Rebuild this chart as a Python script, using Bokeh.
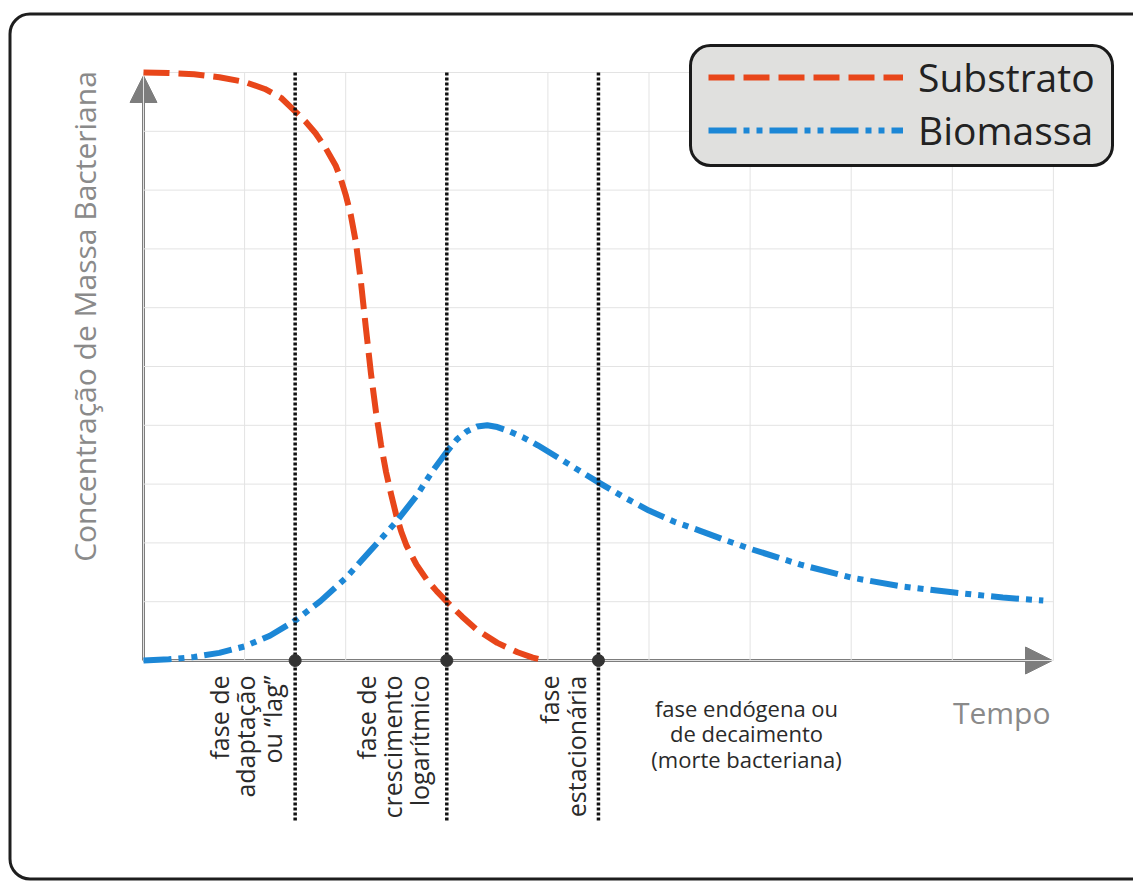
import math
from bokeh.plotting import figure
from bokeh.models import (Range1d, Arrow, NormalHead, Label, BoxAnnotation,
                          Legend, LegendItem, ColumnDataSource)
from bokeh.embed import file_html
from bokeh.resources import INLINE

# ---------------- data ----------------
time_ticks = [0, 1, 2, 3, 4, 5, 6, 7, 8, 9]
conc_ticks = [0, 1, 2, 3, 4, 5, 6, 7, 8, 9, 10]

substrato_t = [0.00, 0.25, 0.50, 0.75, 1.00, 1.20, 1.36, 1.50, 1.60, 1.70, 1.80,
               1.90, 1.95, 2.00, 2.05, 2.10, 2.15, 2.20, 2.25, 2.30, 2.35, 2.40,
               2.45, 2.50, 2.55, 2.60, 2.70, 2.80, 2.90, 3.00, 3.15, 3.30, 3.50,
               3.70, 3.85, 3.98]
substrato_c = [10.00, 9.99, 9.97, 9.92, 9.84, 9.72, 9.57, 9.34, 9.17, 8.97, 8.72,
               8.42, 8.20, 7.92, 7.58, 7.12, 6.45, 5.65, 4.88, 4.22, 3.66, 3.20,
               2.82, 2.47, 2.19, 1.96, 1.63, 1.38, 1.18, 1.00, 0.75, 0.52, 0.30,
               0.14, 0.05, 0.00]

biomassa_t = [0.00, 0.25, 0.50, 0.75, 1.00, 1.25, 1.50, 1.75, 2.00, 2.25, 2.50,
              2.70, 2.85, 3.00, 3.10, 3.20, 3.30, 3.40, 3.50, 3.60, 3.75, 3.90,
              4.10, 4.30, 4.50, 4.75, 5.00, 5.25, 5.50, 5.75, 6.00, 6.50, 7.00,
              7.50, 8.00, 8.50, 8.90]
biomassa_c = [0.00, 0.02, 0.06, 0.13, 0.24, 0.42, 0.68, 1.01, 1.40, 1.88, 2.36,
              2.80, 3.20, 3.55, 3.76, 3.90, 3.98, 4.00, 3.97, 3.91, 3.80, 3.66,
              3.45, 3.24, 3.03, 2.78, 2.55, 2.36, 2.21, 2.05, 1.90, 1.63, 1.41,
              1.26, 1.16, 1.07, 1.02]

phase_bounds = [1.5, 3.0, 4.5]
phase_labels = ["fase de\nadaptação\nou \u201clag\u201d",
                "fase de\ncrescimento\nlogarítmico",
                "fase\nestacionária",
                "fase endógena ou\nde decaimento\n(morte bacteriana)"]

series_names = ["Substrato", "Biomassa"]
x_label = "Tempo"
y_label = "Concentração de Massa Bacteriana"

# ---------------- layout helpers (page pixels -> data) ----------------
W, H = 1133, 883
OX, OY = 0, 0
X0, XU = 143.0, 101.1         # page x of t=0, pixels per unit
Y0, YU = 660.0, 58.8          # page y of c=0, pixels per unit


def sx(px):
    return (px - X0) / XU


def sy(py):
    return (Y0 - py) / YU


FONT = "Open Sans"
GRAY = "#8a8a8a"
AXIS = "#7d7d7d"
ORANGE = "#E8461A"
BLUE = "#1C87D6"

p = figure(width=W, height=H,
           x_range=Range1d(sx(OX), sx(OX + W)),
           y_range=Range1d(sy(OY + H), sy(OY)),
           x_axis_type=None, y_axis_type=None,
           output_backend="svg", toolbar_location=None,
           min_border=0, outline_line_color=None,
           background_fill_color="white", border_fill_color="white")

# outer rounded frame
p.add_layout(BoxAnnotation(left=sx(9.5), right=sx(1180), top=sy(13.5), bottom=sy(878.5),
                           border_radius=20, fill_color=None, fill_alpha=0,
                           line_color="#1e1e1e", line_alpha=1, line_width=3,
                           level="underlay"))

# grid lines from tick arrays
tmax = time_ticks[-1]
cmax = conc_ticks[-1]
p.segment(x0=time_ticks, y0=[0] * len(time_ticks), x1=time_ticks, y1=[cmax] * len(time_ticks),
          line_color="#e3e3e3", line_width=1)
p.segment(x0=[0] * len(conc_ticks), y0=conc_ticks, x1=[tmax] * len(conc_ticks), y1=conc_ticks,
          line_color="#e3e3e3", line_width=1)

# axes with arrow heads
p.add_layout(Arrow(x_start=0, y_start=0, x_end=sx(1052), y_end=0,
                   end=NormalHead(size=27, fill_color=AXIS, line_color=AXIS, line_width=1),
                   line_color=AXIS, line_width=3, level="underlay"))
p.add_layout(Arrow(x_start=0, y_start=0, x_end=0, y_end=sy(75),
                   end=NormalHead(size=27, fill_color=AXIS, line_color=AXIS, line_width=1),
                   line_color=AXIS, line_width=3, level="underlay"))

# curves
src_s = ColumnDataSource(dict(t=substrato_t, c=substrato_c))
src_b = ColumnDataSource(dict(t=biomassa_t, c=biomassa_c))
r_sub = p.line("t", "c", source=src_s, line_color=ORANGE, line_width=6,
               line_dash="26 9", line_cap="butt", line_join="round")
r_bio = p.line("t", "c", source=src_b, line_color=BLUE, line_width=6,
               line_dash="28 7 6 7 6 7", line_cap="butt", line_join="round")

# phase boundaries
p.segment(x0=phase_bounds, y0=[cmax] * 3, x1=phase_bounds, y1=[sy(822)] * 3,
          line_color="#111111", line_width=3.5, line_dash="3 2")
p.scatter(phase_bounds, [0] * 3, size=12, fill_color="#333333", line_color="#333333")

# phase labels
for txt, px in zip(phase_labels[:3], [245, 392, 562]):
    p.add_layout(Label(x=sx(px), y=sy(675), text=txt, angle=math.pi / 2,
                       text_align="right", text_baseline="middle",
                       text_font=FONT, text_font_size="25px", text_color="#2a2a2a",
                       text_line_height=0.79))
p.add_layout(Label(x=sx(746), y=sy(733), text=phase_labels[3],
                   text_align="center", text_baseline="middle",
                   text_font=FONT, text_font_size="22px", text_color="#2a2a2a",
                   text_line_height=0.84))

# axis titles
p.add_layout(Label(x=sx(1050), y=sy(712), text=x_label, text_align="right",
                   text_baseline="alphabetic", text_font=FONT, text_font_size="30px",
                   text_color=GRAY))
p.add_layout(Label(x=sx(84), y=sy(316), text=y_label, angle=math.pi / 2,
                   text_align="center", text_baseline="alphabetic", text_font=FONT,
                   text_font_size="30px", text_color=GRAY))

# legend: rounded box + Bokeh legend
p.add_layout(BoxAnnotation(left=sx(690), right=sx(1112), top=sy(45), bottom=sy(165),
                           border_radius=20, fill_color="#e0e0de", fill_alpha=1,
                           line_color="#1a1a1a", line_alpha=1, line_width=3))
legend = Legend(items=[LegendItem(label=series_names[0], renderers=[r_sub]),
                       LegendItem(label=series_names[1], renderers=[r_bio])],
                location=(708 - OX, (OY + H) - 156),
                border_line_color=None, background_fill_alpha=0,
                padding=0, margin=0, spacing=0,
                glyph_width=195, glyph_height=50, label_height=50,
                label_standoff=15, label_text_font=FONT, label_text_font_size="39px",
                label_text_color="#222222", label_text_baseline="middle")
p.add_layout(legend)

open("out.html", "w").write(file_html(p, INLINE))
